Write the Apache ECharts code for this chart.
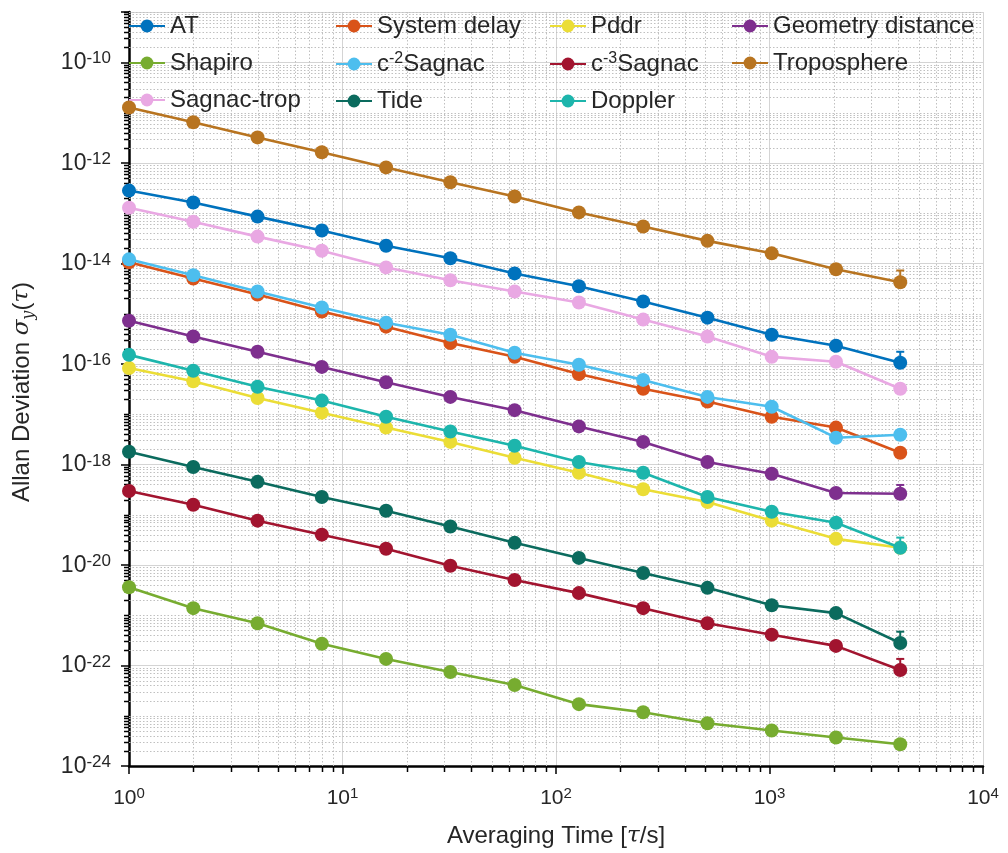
<!DOCTYPE html>
<html><head><meta charset="utf-8">
<script src="https://cdn.jsdelivr.net/npm/echarts@6/dist/echarts.min.js"></script>
<style>html,body{margin:0;padding:0;background:#fff}#c{width:1008px;height:853px}</style>
</head><body><div id="c"></div>
<script>
// ---------- data ----------
const tau = [1, 2, 4, 8, 16, 32, 64, 128, 256, 512, 1024, 2048, 4096];

const AT          = [2.8e-13, 1.62e-13, 8.5e-14, 4.5e-14, 2.24e-14, 1.26e-14, 6.3e-15, 3.5e-15, 1.74e-15, 8.3e-16, 3.8e-16, 2.3e-16, 1.05e-16];
const SystemDelay = [1.05e-14, 5.0e-15, 2.4e-15, 1.1e-15, 5.5e-16, 2.6e-16, 1.38e-16, 6.3e-17, 3.2e-17, 1.78e-17, 8.9e-18, 5.4e-18, 1.7e-18];
const Pddr        = [8.3e-17, 4.5e-17, 2.1e-17, 1.07e-17, 5.4e-18, 2.8e-18, 1.35e-18, 6.8e-19, 3.2e-19, 1.78e-19, 7.6e-20, 3.3e-20, 2.2e-20];
const Geometry    = [7.2e-16, 3.5e-16, 1.74e-16, 8.7e-17, 4.3e-17, 2.2e-17, 1.2e-17, 5.7e-18, 2.8e-18, 1.12e-18, 6.5e-19, 2.7e-19, 2.6e-19];
const Shapiro     = [3.6e-21, 1.38e-21, 6.9e-22, 2.7e-22, 1.35e-22, 7.4e-23, 4.1e-23, 1.7e-23, 1.17e-23, 7.1e-24, 5.1e-24, 3.7e-24, 2.7e-24];
const C2Sagnac    = [1.2e-14, 5.8e-15, 2.75e-15, 1.32e-15, 6.6e-16, 3.8e-16, 1.66e-16, 9.6e-17, 4.8e-17, 2.2e-17, 1.4e-17, 3.4e-18, 3.9e-18];
const C3Sagnac    = [2.95e-19, 1.58e-19, 7.6e-20, 4.0e-20, 2.1e-20, 9.6e-21, 5.0e-21, 2.75e-21, 1.38e-21, 6.9e-22, 4.1e-22, 2.45e-22, 8.1e-23];
const Troposphere = [1.26e-11, 6.4e-12, 3.2e-12, 1.62e-12, 8.1e-13, 4.1e-13, 2.14e-13, 1.03e-13, 5.4e-14, 2.8e-14, 1.58e-14, 7.6e-15, 4.2e-15];
const SagnacTrop  = [1.28e-13, 6.7e-14, 3.4e-14, 1.78e-14, 8.3e-15, 4.6e-15, 2.75e-15, 1.66e-15, 7.6e-16, 3.5e-16, 1.38e-16, 1.1e-16, 3.2e-17];
const Tide        = [1.78e-18, 8.9e-19, 4.5e-19, 2.24e-19, 1.2e-19, 5.8e-20, 2.75e-20, 1.38e-20, 6.9e-21, 3.5e-21, 1.58e-21, 1.1e-21, 2.8e-22];
const Doppler     = [1.51e-16, 7.3e-17, 3.5e-17, 1.86e-17, 8.9e-18, 4.5e-18, 2.35e-18, 1.12e-18, 6.8e-19, 2.24e-19, 1.14e-19, 6.9e-20, 2.2e-20];

const seriesNames = ['AT', 'System delay', 'Pddr', 'Geometry distance', 'Shapiro', 'c^-2Sagnac',
                     'c^-3Sagnac', 'Troposphere', 'Sagnac-trop', 'Tide', 'Doppler'];
const seriesValues = [AT, SystemDelay, Pddr, Geometry, Shapiro, C2Sagnac, C3Sagnac, Troposphere, SagnacTrop, Tide, Doppler];
const seriesColors = ['#0072BD', '#D95319', '#EBDD36', '#7E2F8E', '#77AC30', '#4DBEEE',
                      '#A2142F', '#B87420', '#E9A8E3', '#0B6B5E', '#1DB5AC'];

// small upper error bars at the last point
const errSeries = ['AT', 'Troposphere', 'Geometry distance', 'Doppler', 'Tide', 'c^-3Sagnac'];
const errUpper  = [1.74e-16, 7.2e-15, 3.9e-19, 3.5e-20, 4.7e-22, 1.35e-22];

const xTickExponents = [0, 1, 2, 3, 4];
const yTickExponents = [-24, -22, -20, -18, -16, -14, -12, -10];

const xAxisTitle = ['Averaging Time [', 'τ', '/s]'];
const yAxisTitle = ['Allan Deviation ', 'σ', 'y', '(', 'τ', ')'];

const X_MIN = 1, X_MAX = 1e4, Y_MIN = 1e-24, Y_MAX = 1e-9;

// legend columns (MATLAB fills rows left-to-right)
const legendCols = [
  ['AT', 'Shapiro', 'Sagnac-trop'],
  ['System delay', 'c^-2Sagnac', 'Tide'],
  ['Pddr', 'c^-3Sagnac', 'Doppler'],
  ['Geometry distance', 'Troposphere']
];
const legendLefts = [128, 335, 549, 731];

// ---------- helpers ----------
const FONT = 'Liberation Sans, Arial, Helvetica, sans-serif';
const SERIF = 'DejaVu Serif, serif';
const TXT = '#262626';
const Y_LABEL_MARGIN = 18;
function minorValues(e0, e1) {
  const out = [];
  for (let e = e0; e < e1; e++) for (let k = 2; k <= 9; k++) out.push(k * Math.pow(10, e));
  return out;
}
const xMinor = minorValues(0, 4);
const yMinor = minorValues(-24, -9);
const yOddDecades = [];
for (let e = -23; e <= -9; e += 2) yOddDecades.push(Math.pow(10, e));

function expOf(v, fallback) { return v > 0 ? Math.round(Math.log10(v)) : fallback; }
function fmtName(name) {
  const m = name.match(/^(.*)\^(-?\d+)(.*)$/);
  if (m) return '{n|' + m[1] + '}{s|' + m[2] + '}{n|' + m[3] + '}';
  return '{n|' + name + '}';
}
function crisp(v) { return Math.round(v) + 0.5; }

const gridStyle = { stroke: '#c0c0c0', lineWidth: 1, lineDash: [1.5, 2] };

const chart = echarts.init(document.getElementById('c'), null, { renderer: 'canvas' });

const lineSeries = seriesNames.map((name, i) => ({
  name: name,
  type: 'line',
  data: tau.map((t, j) => [t, seriesValues[i][j]]),
  symbol: 'circle',
  symbolSize: 14,
  showSymbol: true,
  color: seriesColors[i],
  lineStyle: { width: 2.6, color: seriesColors[i] },
  itemStyle: { color: seriesColors[i] },
  z: 5 + i,
  animation: false
}));

const xMinorSeries = {
  type: 'custom', silent: true, z: 1, clip: false, animation: false,
  data: xMinor.map(v => [v, Y_MIN]),
  renderItem(params, api) {
    const v = api.value(0);
    const p0 = api.coord([v, Y_MIN]);
    const p1 = api.coord([v, Y_MAX]);
    const x = crisp(p0[0]);
    return { type: 'group', children: [
      { type: 'line', shape: { x1: x, y1: p0[1], x2: x, y2: p1[1] }, style: gridStyle },
      { type: 'line', shape: { x1: x, y1: p0[1], x2: x, y2: p0[1] + 6 }, style: { stroke: '#000', lineWidth: 1.5 } }
    ]};
  }
};
const yMinorSeries = {
  type: 'custom', silent: true, z: 1, clip: false, animation: false,
  data: yMinor.concat(yOddDecades).map(v => [X_MIN, v]),
  renderItem(params, api) {
    const v = api.value(1);
    const p0 = api.coord([X_MIN, v]);
    const p1 = api.coord([X_MAX, v]);
    const y = crisp(p0[1]);
    return { type: 'group', children: [
      { type: 'line', shape: { x1: p0[0], y1: y, x2: p1[0], y2: y }, style: gridStyle },
      { type: 'line', shape: { x1: p0[0] - 5, y1: y, x2: p0[0], y2: y }, style: { stroke: '#000', lineWidth: 1.5 } }
    ]};
  }
};
// The log scale rounds its 1e-24 end tick to 0, so the bottom tick and label are drawn here.
const yMinTickSeries = {
  type: 'custom', silent: true, z: 20, clip: false, animation: false,
  data: [[X_MIN, Y_MIN]],
  renderItem(params, api) {
    const p = api.coord([api.value(0), api.value(1)]);
    const e = expOf(api.value(1), -24);
    return { type: 'group', children: [
      { type: 'line', shape: { x1: p[0] - 8, y1: p[1], x2: p[0], y2: p[1] }, style: { stroke: '#000', lineWidth: 1.5 } },
      { type: 'text', x: p[0] - Y_LABEL_MARGIN, y: p[1], style: {
          text: '{b|10}{s|' + e + '}', align: 'right', verticalAlign: 'middle',
          rich: {
            b: { fontSize: 23, fontFamily: FONT, fill: TXT, lineHeight: 24, verticalAlign: 'bottom', padding: [6, 0, 0, 0] },
            s: { fontSize: 17, fontFamily: FONT, fill: TXT, lineHeight: 16, verticalAlign: 'top' }
          }
      } }
    ]};
  }
};
const errSeriesDef = {
  type: 'custom', silent: true, z: 30, clip: false, animation: false,
  data: errSeries.map((n, i) => {
    const si = seriesNames.indexOf(n);
    return [tau[tau.length - 1], seriesValues[si][tau.length - 1], errUpper[i], si];
  }),
  renderItem(params, api) {
    const x = api.value(0), v = api.value(1), hi = api.value(2), si = api.value(3);
    const p0 = api.coord([x, v]);
    const p1 = api.coord([x, hi]);
    const c = seriesColors[si];
    return { type: 'group', children: [
      { type: 'line', shape: { x1: p0[0], y1: p0[1], x2: p1[0], y2: p1[1] }, style: { stroke: c, lineWidth: 2 } },
      { type: 'line', shape: { x1: p1[0] - 4, y1: p1[1], x2: p1[0] + 4, y2: p1[1] }, style: { stroke: c, lineWidth: 2 } }
    ]};
  }
};

const legendRich = {
  n: { fontSize: 24, fontFamily: FONT, color: TXT, lineHeight: 26 },
  s: { fontSize: 16, fontFamily: FONT, color: TXT, lineHeight: 14, verticalAlign: 'top' }
};
const legends = legendCols.map((col, k) => ({
  data: col,
  orient: 'vertical',
  left: legendLefts[k],
  top: 14,
  itemWidth: 36,
  itemHeight: 16,
  itemGap: 13,
  padding: 0,
  selectedMode: false,
  formatter: fmtName,
  textStyle: { fontSize: 24, fontFamily: FONT, color: TXT, rich: legendRich }
}));

const xTickRich = {
  b: { fontSize: 21, fontFamily: FONT, color: TXT, lineHeight: 23, verticalAlign: 'bottom', padding: [5, 0, 0, 0] },
  s: { fontSize: 15, fontFamily: FONT, color: TXT, lineHeight: 14, verticalAlign: 'top' }
};
const yTickRich = {
  b: { fontSize: 23, fontFamily: FONT, color: TXT, lineHeight: 24, verticalAlign: 'bottom', padding: [6, 0, 0, 0] },
  s: { fontSize: 17, fontFamily: FONT, color: TXT, lineHeight: 16, verticalAlign: 'top' }
};

chart.setOption({
  backgroundColor: '#ffffff',
  animation: false,
  textStyle: { fontFamily: FONT },
  grid: { left: 129, right: 25, top: 12, bottom: 87, outerBoundsMode: 'none' },
  legend: legends,
  graphic: [{
    type: 'text', x: 22, y: 392, rotation: Math.PI / 2, silent: true, z: 50,
    style: {
      text: '{a|' + yAxisTitle[0] + '}{i|' + yAxisTitle[1] + '}{sub|' + yAxisTitle[2] + '}{a|' + yAxisTitle[3] + '}{i|' + yAxisTitle[4] + '}{a|' + yAxisTitle[5] + '}',
      align: 'center', verticalAlign: 'middle',
      fontSize: 24, fontFamily: FONT, fill: TXT,
      rich: {
        a: { fontSize: 24, fontFamily: FONT, fill: TXT, lineHeight: 30 },
        i: { fontSize: 23, fontFamily: SERIF, fontStyle: 'italic', fill: TXT, lineHeight: 30 },
        sub: { fontSize: 16, fontFamily: SERIF, fontStyle: 'italic', fill: TXT, lineHeight: 14, verticalAlign: 'bottom' }
      }
    }
  }],
  xAxis: {
    type: 'log', logBase: 10, min: X_MIN, max: X_MAX, interval: 1,
    name: '{a|' + xAxisTitle[0] + '}{i|' + xAxisTitle[1] + '}{a|' + xAxisTitle[2] + '}',
    nameLocation: 'middle', nameGap: 58,
    nameTextStyle: { rich: {
      a: { fontSize: 24, fontFamily: FONT, color: TXT },
      i: { fontSize: 23, fontFamily: SERIF, fontStyle: 'italic', color: TXT }
    }},
    axisLine: { show: true, onZero: false, lineStyle: { color: '#000', width: 2.5 } },
    axisTick: { show: true, inside: false, length: 8, lineStyle: { color: '#000', width: 1.5 } },
    axisLabel: {
      margin: 20, showMinLabel: true, showMaxLabel: true, hideOverlap: false,
      formatter: v => { const e = expOf(v, 0); return xTickExponents.includes(e) ? '{b|10}{s|' + e + '}' : ''; },
      rich: xTickRich
    },
    splitLine: { show: true, lineStyle: { color: '#d4d4d4', width: 1 } },
    minorTick: { show: false }, minorSplitLine: { show: false }
  },
  yAxis: {
    type: 'log', logBase: 10, min: Y_MIN, max: Y_MAX, interval: 2,
    axisLine: { show: true, onZero: false, lineStyle: { color: '#000', width: 2.5 } },
    axisTick: { show: true, inside: false, length: 8, lineStyle: { color: '#000', width: 1.5 } },
    axisLabel: {
      margin: Y_LABEL_MARGIN, showMinLabel: true, showMaxLabel: true, hideOverlap: false,
      formatter: v => { const e = expOf(v, -24); return yTickExponents.includes(e) ? '{b|10}{s|' + e + '}' : ''; },
      rich: yTickRich
    },
    splitLine: { show: true, lineStyle: { color: '#d4d4d4', width: 1 } },
    minorTick: { show: false }, minorSplitLine: { show: false }
  },
  series: [xMinorSeries, yMinorSeries, yMinTickSeries].concat(lineSeries).concat([errSeriesDef])
});
</script>
</body></html>
